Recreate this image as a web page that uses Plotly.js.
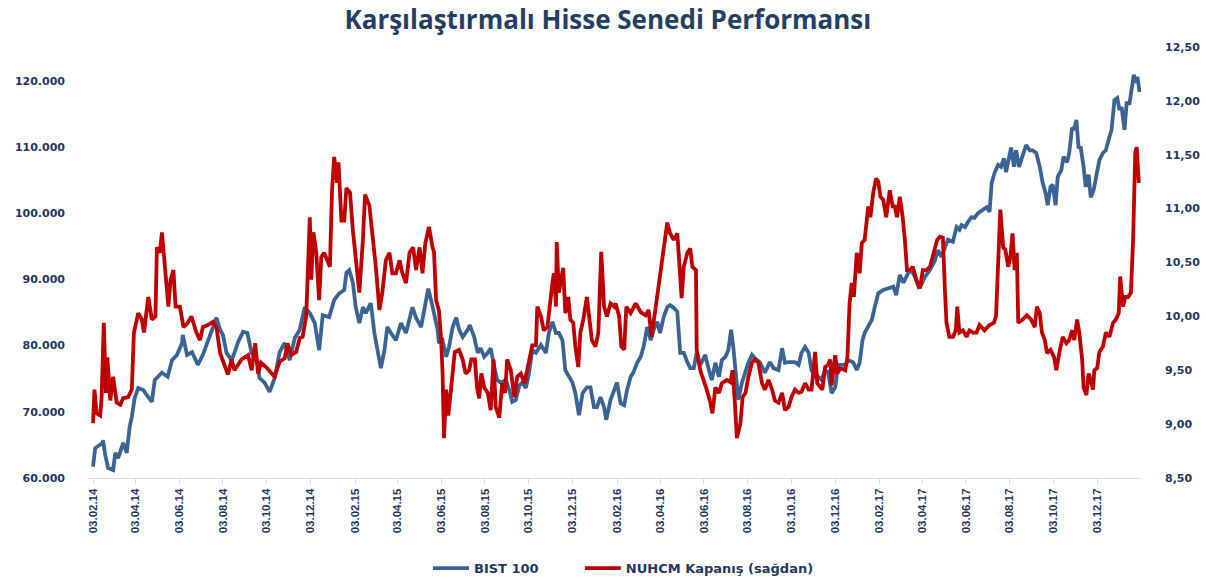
<!DOCTYPE html>
<html><head><meta charset="utf-8">
<script src="https://cdn.plot.ly/plotly-3.0.1.min.js"></script>
<style>html,body{margin:0;padding:0;background:#fff}#chart{width:1206px;height:581px}</style>
</head><body><div id="chart"></div>
<script>
// Day offsets from 03.02.2014
const startDate = "2014-02-03";
const bistDays = [0,3,13,14,17,21,28,31,35,42,47,51,54,58,63,70,75,82,86,96,104,110,117,124,125,131,138,146,153,160,167,172,177,181,186,193,197,202,209,215,221,228,232,239,246,253,260,267,274,281,288,295,302,309,315,320,329,336,343,350,353,357,362,366,371,376,380,387,392,397,401,406,410,415,422,429,436,445,450,457,461,467,472,475,480,482,487,492,496,501,506,510,515,522,525,531,536,540,545,550,554,559,563,568,575,580,584,589,594,598,603,607,612,617,624,631,635,640,645,649,654,658,663,668,672,677,682,688,693,698,702,707,712,715,721,726,730,735,740,744,749,753,758,763,767,772,777,781,786,790,795,800,804,809,814,818,823,828,832,837,841,846,853,858,862,867,872,876,881,885,889,892,896,899,904,909,913,918,922,929,936,943,948,955,960,964,969,978,983,987,992,997,1001,1006,1010,1015,1020,1024,1029,1034,1038,1048,1052,1059,1064,1068,1072,1075,1080,1085,1089,1094,1101,1108,1115,1119,1124,1129,1136,1140,1145,1150,1154,1159,1166,1173,1177,1182,1187,1191,1198,1203,1207,1210,1215,1219,1224,1228,1233,1240,1245,1249,1252,1256,1261,1265,1269,1272,1277,1279,1283,1286,1290,1295,1300,1305,1309,1314,1319,1323,1327,1330,1334,1337,1341,1344,1349,1352,1357,1360,1364,1367,1370,1373,1376,1380,1383,1387,1390,1394,1397,1402,1407,1411,1416,1419,1423,1427,1430,1433,1437,1440,1444,1447,1450,1453,1455,1458];
const bistVals = [61700,64500,65300,65700,63500,61500,61200,63800,63000,65300,63800,67700,69200,72100,73600,73300,72500,71500,74800,75900,75300,77800,78600,80400,81600,78600,79000,77100,78600,80800,82800,84200,82400,81600,78900,77800,78900,80500,82100,81900,78900,77800,75100,74400,73000,75100,79000,80400,77800,81100,82400,85800,84900,83400,79300,84600,84300,86900,87900,88400,91000,91400,89500,85800,83400,85800,84900,86400,81900,79300,76600,79300,82800,81900,80800,83400,81900,85800,84200,82800,84900,88600,86400,84900,82400,80400,80800,78300,79800,82800,84200,82400,81300,82400,83100,81300,78900,79600,78300,78900,79600,76800,74800,74400,74800,73300,71500,71800,74000,74400,73600,75600,79300,78900,80100,78900,81900,83600,81900,81900,80800,76300,75300,74400,72800,69500,72800,73700,73700,70700,70700,72200,70700,68800,71800,73300,74400,71300,71000,73300,75300,76000,77400,78300,79800,82800,80800,82400,83600,81900,84300,85800,86100,85700,85100,78900,78900,77500,76600,76600,78900,77100,78600,76300,74800,77400,75300,77800,78300,79300,82400,79800,75300,71800,74400,76300,77400,78600,78100,77500,75900,77500,76600,76300,79600,77400,77500,77500,77100,78900,79800,78900,76300,75300,75300,74800,76300,76000,72800,73700,77100,77100,77800,77500,76300,77400,80800,81900,82800,83900,85800,87900,88400,88700,88900,87600,90700,89500,91000,91400,90400,88900,89200,90400,91400,92900,94400,93400,94900,96000,95700,97900,97500,98200,97900,98700,99400,99300,100000,100500,100900,100200,104600,106100,107300,107000,108300,106200,109100,109900,107000,109500,107000,108500,110300,109500,109500,109100,107000,104600,103100,101200,104000,104300,101200,105500,106500,108500,107700,109100,112900,112600,114100,110000,109900,107000,104000,105800,102400,103500,105500,108000,109100,109500,111500,112600,117100,117400,115600,116000,112600,116600,116600,119100,120900,119700,120600,118300];
const nuhDays = [0,2,5,10,12,15,18,20,24,28,33,38,42,49,54,57,63,68,71,77,82,87,89,93,96,100,105,108,112,115,121,126,132,137,144,149,153,160,167,172,177,183,188,193,197,207,216,221,226,230,234,241,248,253,260,267,271,276,283,288,292,297,302,304,307,311,315,318,322,327,330,333,336,340,342,346,350,353,358,362,366,371,376,379,385,390,394,399,403,408,413,417,422,427,431,436,441,446,450,455,459,463,468,473,475,478,480,482,485,487,489,492,495,499,501,504,510,515,519,524,527,532,535,538,541,545,550,554,558,561,566,570,574,577,582,587,591,596,601,607,612,617,619,624,628,633,637,640,642,645,646,649,652,655,658,662,665,669,672,676,679,683,688,691,695,700,704,708,712,716,721,726,728,733,736,740,743,749,756,763,770,774,778,784,788,792,795,800,804,809,814,817,820,823,828,832,835,840,841,846,851,855,860,863,867,872,876,883,888,891,894,897,902,905,909,913,918,922,927,932,936,941,946,950,955,960,964,969,973,978,983,987,992,997,1001,1006,1009,1016,1020,1024,1027,1029,1034,1037,1041,1048,1051,1054,1057,1060,1064,1068,1071,1075,1080,1083,1087,1091,1094,1097,1101,1105,1110,1114,1117,1120,1124,1128,1131,1134,1138,1142,1147,1152,1156,1161,1166,1170,1176,1180,1184,1187,1189,1193,1198,1202,1204,1207,1212,1217,1221,1226,1231,1235,1242,1249,1255,1258,1262,1264,1268,1271,1275,1278,1281,1284,1287,1289,1295,1301,1307,1312,1315,1319,1322,1326,1329,1334,1339,1342,1347,1351,1356,1360,1364,1367,1371,1374,1378,1380,1384,1387,1390,1393,1395,1399,1402,1407,1411,1416,1421,1425,1429,1431,1435,1438,1442,1446,1449,1452,1454,1457];
const nuhVals = [9.01,9.32,9.10,9.08,9.25,9.94,9.29,9.62,9.22,9.44,9.20,9.18,9.24,9.25,9.32,9.85,10.03,9.97,9.85,10.18,9.97,10.00,10.64,10.59,10.78,10.50,10.09,10.34,10.43,10.09,10.09,9.90,9.94,10.00,9.85,9.78,9.90,9.92,9.95,9.90,9.66,9.55,9.46,9.60,9.50,9.60,9.64,9.50,9.75,9.47,9.57,9.53,9.48,9.44,9.58,9.61,9.75,9.64,9.67,9.80,9.81,10.00,10.92,10.34,10.78,10.59,10.15,10.55,10.59,10.52,10.46,11.17,11.48,11.24,11.43,10.89,10.89,11.19,11.15,10.80,10.55,10.22,10.71,11.13,11.03,10.74,10.46,10.06,10.22,10.52,10.59,10.40,10.40,10.52,10.40,10.31,10.59,10.64,10.43,10.64,10.40,10.68,10.83,10.64,10.60,10.15,10.09,10.05,9.78,9.47,8.87,9.32,9.08,9.34,9.47,9.67,9.69,9.60,9.47,9.50,9.60,9.60,9.34,9.24,9.47,9.34,9.29,9.13,9.60,9.16,9.06,9.38,9.29,9.60,9.50,9.25,9.44,9.47,9.38,9.57,9.73,9.73,10.09,10.00,9.87,9.90,10.18,10.31,10.40,10.09,10.69,10.22,10.34,10.45,10.03,10.18,9.97,9.94,9.72,9.53,9.85,9.97,10.18,10.00,9.78,9.72,9.85,10.60,10.09,10.00,10.12,10.09,10.12,10.00,9.72,9.69,10.09,10.03,10.12,10.04,10.01,10.06,9.81,10.09,10.27,10.46,10.59,10.87,10.77,10.71,10.77,10.46,10.17,10.46,10.59,10.63,10.46,10.43,9.69,9.50,9.41,9.32,9.20,9.10,9.34,9.29,9.38,9.41,9.39,9.50,9.22,8.87,9.01,9.25,9.29,9.44,9.57,9.60,9.57,9.38,9.32,9.41,9.32,9.22,9.20,9.29,9.13,9.16,9.25,9.32,9.29,9.30,9.38,9.32,9.32,9.67,9.38,9.32,9.53,9.55,9.60,9.36,9.64,9.47,9.52,9.50,9.62,10.12,10.31,10.18,10.59,10.40,10.68,10.71,11.02,10.92,11.15,11.28,11.25,11.11,11.08,10.92,11.17,11.02,11.02,10.92,11.11,10.92,10.71,10.43,10.43,10.46,10.34,10.26,10.43,10.43,10.46,10.55,10.71,10.74,10.73,10.22,9.94,9.81,9.81,9.87,10.09,9.85,9.87,9.81,9.87,9.85,9.85,9.92,9.87,9.92,9.94,10.00,10.55,10.99,10.64,10.62,10.46,10.55,10.77,10.43,10.59,9.94,9.97,10.01,9.97,9.90,10.09,10.03,9.85,9.78,9.66,9.69,9.62,9.50,9.69,9.81,9.75,9.78,9.87,9.78,9.97,9.85,9.60,9.34,9.27,9.47,9.41,9.32,9.50,9.52,9.67,9.72,9.85,9.81,9.94,9.97,10.03,10.37,10.09,10.18,10.18,10.22,10.71,11.52,11.57,11.24];
const tickDates = ["2014-02-03","2014-04-03","2014-06-03","2014-08-03","2014-10-03","2014-12-03","2015-02-03","2015-04-03","2015-06-03","2015-08-03","2015-10-03","2015-12-03","2016-02-03","2016-04-03","2016-06-03","2016-08-03","2016-10-03","2016-12-03","2017-02-03","2017-04-03","2017-06-03","2017-08-03","2017-10-03","2017-12-03"];
const leftTicks = [60000,70000,80000,90000,100000,110000,120000];
const rightTicks = [8.5,9,9.5,10,10.5,11,11.5,12,12.5];
const seriesNames = ["BIST 100", "NUHCM Kapanış (sağdan)"];

const base = Date.parse(startDate + "T00:00:00Z");
const toDate = d => new Date(base + d * 86400000).toISOString().slice(0, 10);
const pad = "\u00a0".repeat(8);

const navy = "#1f3864";
const traces = [
  {x: bistDays.map(toDate), y: bistVals, type: "scatter", mode: "lines", name: seriesNames[0] + pad,
   line: {color: "#3a6496", width: 3.8}, yaxis: "y"},
  {x: nuhDays.map(toDate), y: nuhVals, type: "scatter", mode: "lines", name: seriesNames[1],
   line: {color: "#c00000", width: 3.8}, yaxis: "y2"}
];
const layout = {
  width: 1206, height: 581,
  margin: {l: 88, r: 65, t: 47, b: 103},
  paper_bgcolor: "#fff", plot_bgcolor: "#fff",
  separators: ",.",
  title: {text: "<b>Karşılaştırmalı Hisse Senedi Performansı</b>", font: {family: "Open Sans", size: 26, color: "#243f66"},
          x: 0.504, xref: "container", y: 0.966, yref: "container", yanchor: "middle"},
  showlegend: true,
  legend: {orientation: "h", x: 0.517, xref: "container", xanchor: "center", y: 0.022, yref: "container", yanchor: "middle",
           font: {family: "DejaVu Sans", size: 13, color: navy, weight: "bold"}, itemwidth: 36, traceorder: "normal"},
  xaxis: {type: "date", range: ["2014-01-27", "2018-02-02"], tickmode: "array", tickvals: tickDates,
          tickformat: "%d.%m.%y", tickangle: -90, showgrid: false, zeroline: false, automargin: false,
          showline: true, linecolor: "#d9d9d9", linewidth: 1, ticks: "outside", ticklen: 5, tickcolor: "#d9d9d9",
          tickfont: {family: "Liberation Sans", size: 11.5, color: navy, weight: "bold"}},
  yaxis: {range: [60000, 125100], tickmode: "array", tickvals: leftTicks, tickformat: ",.0f", automargin: false,
          showgrid: false, zeroline: false, showline: false, ticks: "", ticklabelstandoff: 22,
          tickfont: {family: "DejaVu Sans", size: 11, color: navy, weight: "bold"}},
  yaxis2: {range: [8.5, 12.5], overlaying: "y", side: "right", tickmode: "array", tickvals: rightTicks, tickformat: ".2f",
           showgrid: false, zeroline: false, showline: false, ticks: "", automargin: false, ticklabelstandoff: 23,
           tickfont: {family: "DejaVu Sans", size: 11, color: navy, weight: "bold"}}
};
Plotly.newPlot("chart", traces, layout, {displayModeBar: false, staticPlot: true});
</script></body></html>
